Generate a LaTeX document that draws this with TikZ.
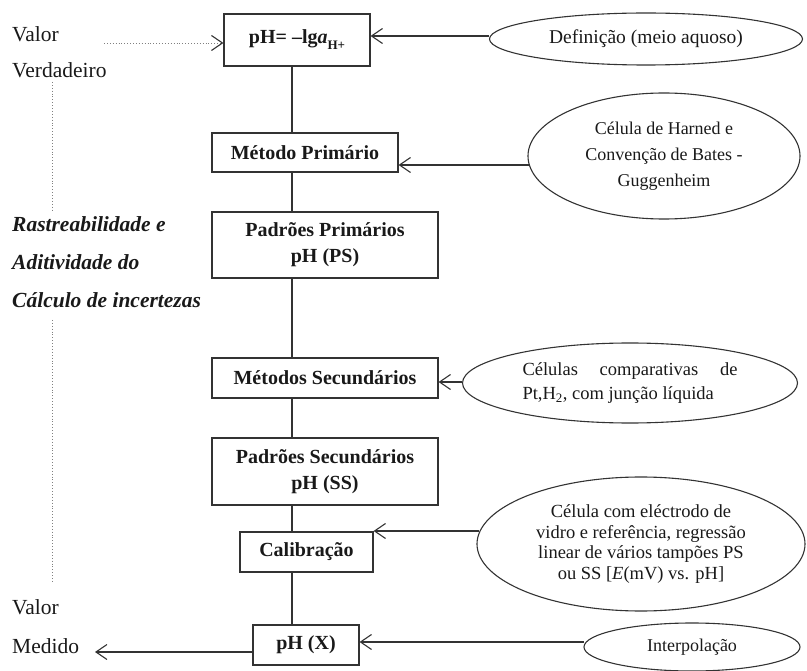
\documentclass[tikz,border=0pt]{standalone}
\usepackage{fontspec}
\setmainfont{Liberation Serif}
\usetikzlibrary{shapes.geometric,arrows.meta,calc}
\begin{document}
\begin{tikzpicture}[x=1pt,y=-1pt,
  box/.style={draw=black!80, line width=1.1pt, rectangle, inner sep=0pt, text=black!90,
    font=\fontsize{20}{26}\selectfont\bfseries, align=center},
  ell/.style={draw=black!80, line width=1.1pt, ellipse, inner sep=0pt, text=black!90, align=center},
  conn/.style={draw=black!80, line width=1.1pt},
  arr/.style={conn, -{Straight Barb[length=11pt,width=15pt,line width=1.1pt]}},
  side/.style={anchor=base west, inner sep=0pt, text=black!90, font=\fontsize{21.5}{24}\selectfont},
  ital/.style={anchor=base west, inner sep=0pt, text=black!90, font=\fontsize{21.5}{24}\selectfont\bfseries\itshape},
  dots/.style={draw=black!50, line width=0.9pt, dotted}
]
\useasboundingbox (0,0) rectangle (807,671);

% main column boxes
\node[box, minimum width=146pt, minimum height=52pt] (b1) at (297,40)
  {pH= –lg\textit{a}\raisebox{-0.3em}{\fontsize{13}{13}\selectfont H+}};
\node[box, minimum width=186pt, minimum height=39pt] (b2) at (305,152.5) {Método Primário};
\node[box, minimum width=226pt, minimum height=66pt] (b3) at (325,245) {Padrões Primários\\pH (PS)};
\node[box, minimum width=226pt, minimum height=40pt] (b4) at (325,378) {Métodos Secundários};
\node[box, minimum width=226pt, minimum height=67pt] (b5) at (325,471.5) {Padrões Secundários\\pH (SS)};
\node[box, minimum width=133pt, minimum height=40pt] (b6) at (306.5,552) {Calibração};
\node[box, minimum width=106pt, minimum height=40pt] (b7) at (306,645) {pH (X)};

% spine
\coordinate (sp) at (292,0);
\draw[conn] (b1.south -| sp) -- (b2.north -| sp);
\draw[conn] (b2.south -| sp) -- (b3.north -| sp);
\draw[conn] (b3.south -| sp) -- (b4.north -| sp);
\draw[conn] (b4.south -| sp) -- (b5.north -| sp);
\draw[conn] (b5.south -| sp) -- (b6.north -| sp);
\draw[conn] (b6.south -| sp) -- (b7.north -| sp);

% ellipses
\node[ell, minimum width=313pt, minimum height=52pt, font=\fontsize{19.5}{24}\selectfont] (e1) at (646,39)
  {Definição (meio aquoso)};
\node[ell, minimum width=272pt, minimum height=126pt, font=\fontsize{18}{26}\selectfont] (e2) at (664,156)
  {Célula de Harned e\\Convenção de Bates -\\Guggenheim};
\node[ell, minimum width=335pt, minimum height=80pt, font=\fontsize{18.5}{24}\selectfont, align=left] (e3) at (630,383)
  {\makebox[215pt][s]{Células comparativas de}\\Pt,H\textsubscript{2}, com junção líquida};
\node[ell, minimum width=328pt, minimum height=134pt, font=\fontsize{18.5}{20.5}\selectfont] (e4) at (641,544)
  {Célula com eléctrodo de\\vidro e referência, regressão\\linear de vários tampões PS\\ou SS [\textit{E}(mV) vs. pH]};
\node[ell, minimum width=216pt, minimum height=48pt, font=\fontsize{18}{22}\selectfont] (e5) at (692,647)
  {Interpolação};

% arrows from ellipses
\draw[arr] ([yshift=3pt]e1.west) -- ([yshift=3pt]e1.west -| b1.east);
\draw[arr] ([yshift=-9pt,xshift=2pt]e2.west) -- ([yshift=-9pt]e2.west -| b2.east);
\draw[arr] ([yshift=1pt]e3.west) -- ([yshift=1pt]e3.west -| b4.east);
\draw[arr] ([yshift=13pt,xshift=3pt]e4.west) -- ([yshift=13pt]e4.west -| b6.east);
\draw[arr] ([yshift=5pt,xshift=1pt]e5.west) -- ([yshift=5pt]e5.west -| b7.east);

% left side texts
\node[side] (v1) at (12,42) {Valor};
\node[side] (v2) at (12,78) {Verdadeiro};
\node[ital] (r1) at (12,232) {Rastreabilidade e};
\node[ital] (r2) at (12,270) {Aditividade do};
\node[ital] (r3) at (12,308) {Cálculo de incertezas};
\node[side] (m1) at (12,614) {Valor};
\node[side] (m2) at (12,653) {Medido};

% dotted arrow and dotted traceability line
\coordinate (vin) at (104,43);
\draw[dots, -{Straight Barb[length=11pt,width=15pt,line width=1.1pt]}, arrows={[color=black!80]}] (vin) -- (vin -| b1.west);
\coordinate (d1) at (52,82);
\coordinate (d2) at (52,212);
\coordinate (d3) at (52,320);
\coordinate (d4) at (52,583);
\draw[dots] (d1) -- (d2);
\draw[dots] (d3) -- (d4);

% output arrow
\coordinate (vout) at (95,652);
\draw[arr] (b7.west |- vout) -- (vout);
\end{tikzpicture}
\end{document}
